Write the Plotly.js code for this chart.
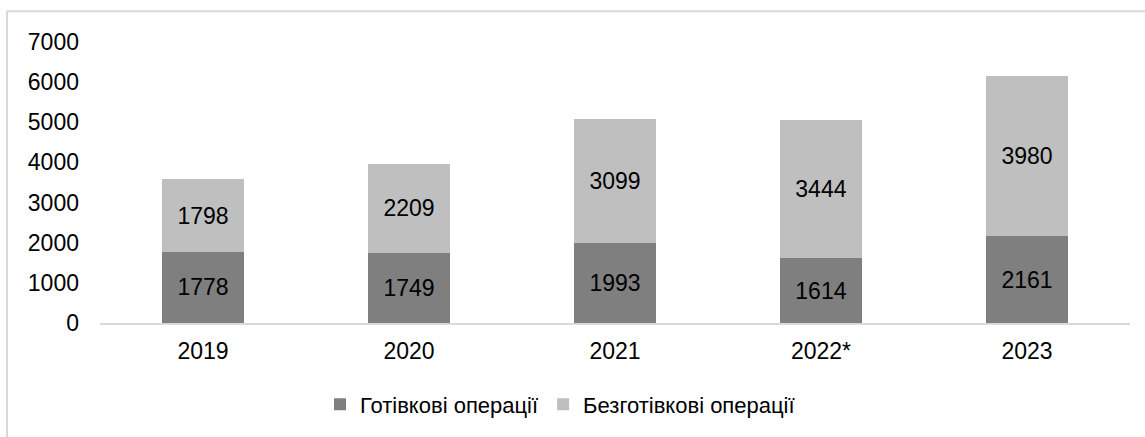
<!DOCTYPE html>
<html>
<head>
<meta charset="utf-8">
<script src="https://cdn.plot.ly/plotly-3.0.1.min.js"></script>
<style>
html,body{margin:0;padding:0;background:#fff;}
#chart{width:1145px;height:437px;}
</style>
</head>
<body>
<div id="chart"></div>
<script>
const years = ["2019", "2020", "2021", "2022*", "2023"];
const cashOps = [1778, 1749, 1993, 1614, 2161];
const cashlessOps = [1798, 2209, 3099, 3444, 3980];
const seriesNames = ["Готівкові операції", "Безготівкові операції"];
const yTicks = [0, 1000, 2000, 3000, 4000, 5000, 6000, 7000];

const fam = "Liberation Sans, Arial, sans-serif";
const font = {family: fam, size: 23, color: "#000"};
const legendFont = {family: fam, size: 22, color: "#000"};

const traces = [
  {type: "bar", name: seriesNames[0], x: years, y: cashOps, marker: {color: "#7f7f7f"},
   text: cashOps.map(String), textposition: "inside", insidetextanchor: "middle",
   textfont: font, constraintext: "none", hoverinfo: "none"},
  {type: "bar", name: seriesNames[1], x: years, y: cashlessOps, marker: {color: "#bfbfbf"},
   text: cashlessOps.map(String), textposition: "inside", insidetextanchor: "middle",
   textfont: font, constraintext: "none", hoverinfo: "none"}
];

const layout = {
  width: 1145, height: 437,
  margin: {l: 100, r: 15, t: 42, b: 111},
  barmode: "stack",
  bargap: 0.6,
  paper_bgcolor: "#fff", plot_bgcolor: "#fff",
  font: font,
  showlegend: true,
  legend: {orientation: "h", x: 0.2136, xanchor: "left", y: -0.29, yanchor: "middle",
           font: legendFont, traceorder: "normal", itemclick: false},
  xaxis: {type: "category", showgrid: false, showline: true, linecolor: "#d9d9d9", linewidth: 2,
          ticks: "", tickfont: font, ticklabelstandoff: 6, fixedrange: true},
  yaxis: {range: [0, 7000], tickvals: yTicks, showgrid: false, zeroline: false, showline: false,
          ticks: "", tickfont: font, ticklabelstandoff: 20, fixedrange: true},
  shapes: [{type: "rect", xref: "paper", yref: "paper", x0: -0.0903, x1: 1.2, y0: -1, y1: 1.109,
            line: {color: "#d9d9d9", width: 2}, fillcolor: "rgba(0,0,0,0)", layer: "below"}]
};

Plotly.newPlot("chart", traces, layout, {displayModeBar: false, staticPlot: true});
</script>
</body>
</html>
